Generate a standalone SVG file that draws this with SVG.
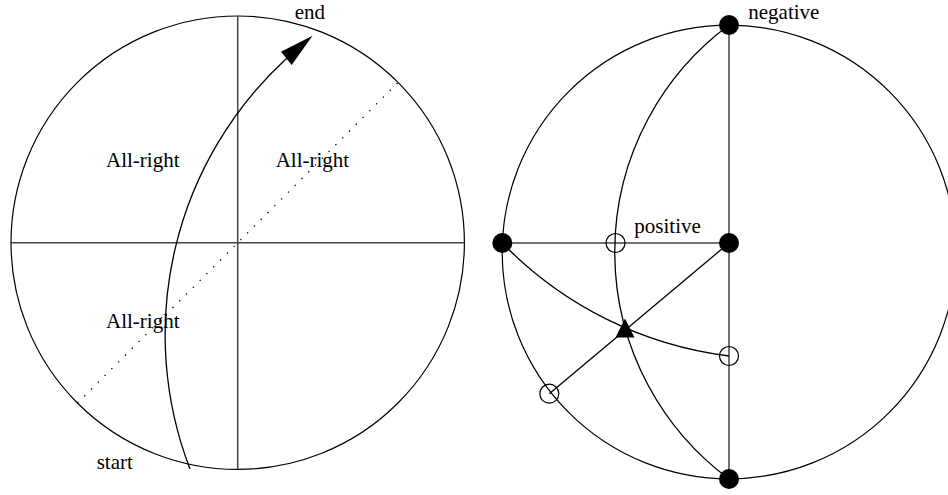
<svg xmlns="http://www.w3.org/2000/svg" width="948" height="495" viewBox="0 0 948 495">
<style>
.bg{fill:#fff}
.prim{fill:none;stroke:#000;stroke-width:1.2}
.axis{fill:none;stroke:#444;stroke-width:1.5}
.arc{fill:none;stroke:#000;stroke-width:1.3}
.dot{fill:none;stroke:#000;stroke-width:1.3;stroke-dasharray:1.3 8.3}
.full{fill:#000;stroke:none}
.open{fill:none;stroke:#000;stroke-width:1.2}
.lbl{font-family:"Liberation Serif","Times New Roman",serif;font-size:21px;fill:#000}
</style>
<rect class="bg" x="0" y="0" width="948" height="495"/>

<!-- Left diagram -->
<g id="left-net">
  <circle class="prim" cx="237.7" cy="242.7" r="226.7"/>
  <line class="axis" x1="237.7" y1="16" x2="237.7" y2="469.4"/>
  <line class="axis" x1="11" y1="242.7" x2="464.4" y2="242.7"/>
</g>
<g id="left-connectors">
  <line class="dot" x1="77.5" y1="403" x2="398" y2="82.5"/>
  <path class="arc" d="M190,469 A375,375 0 0 1 287,58"/>
  <polygon class="full" points="312.5,35.7 281,51.7 291.7,65"/>
</g>
<g id="left-labels">
  <text class="lbl" x="106" y="167">All-right</text>
  <text class="lbl" x="275.7" y="167">All-right</text>
  <text class="lbl" x="106" y="328">All-right</text>
  <text class="lbl" x="294.7" y="19">end</text>
  <text class="lbl" x="96.7" y="469">start</text>
</g>

<!-- Right diagram -->
<g id="right-net">
  <circle class="prim" cx="729" cy="252" r="226.8"/>
</g>
<g id="right-connectors">
  <line class="axis" x1="729" y1="25" x2="729" y2="479"/>
  <line class="axis" x1="502.3" y1="243" x2="729" y2="243"/>
  <path class="arc" d="M729,25 A282.6,282.6 0 0 0 729,479"/>
  <path class="arc" d="M502.3,243 A380.9,380.9 0 0 0 729,356"/>
  <line class="arc" x1="729" y1="243" x2="549.3" y2="393.7"/>
</g>
<g id="node-top"><circle class="full" cx="729" cy="25" r="10"/></g>
<g id="node-bottom"><circle class="full" cx="729" cy="479" r="10"/></g>
<g id="node-left"><circle class="full" cx="502.3" cy="243" r="10"/></g>
<g id="node-center"><circle class="full" cx="729" cy="243" r="10"/></g>
<g id="node-open-mid"><circle class="open" cx="615.5" cy="243" r="9.5"/></g>
<g id="node-open-right"><circle class="open" cx="729" cy="356" r="9.5"/></g>
<g id="node-open-lower"><circle class="open" cx="549.3" cy="393.7" r="9.5"/></g>
<g id="node-triangle"><polygon class="full" points="625,318.5 615.5,337.5 634.5,337.5"/></g>
<g id="right-labels">
  <text class="lbl" x="748.3" y="19">negative</text>
  <text class="lbl" x="634.3" y="233">positive</text>
</g>
</svg>
